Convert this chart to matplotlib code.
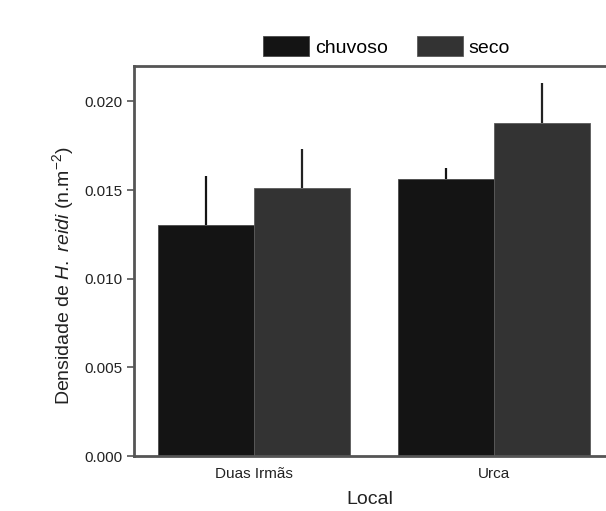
import matplotlib
matplotlib.use("Agg")
import matplotlib.pyplot as plt
import numpy as np

plt.rcParams['font.family'] = ['Liberation Sans', 'DejaVu Sans']
plt.rcParams['mathtext.fontset'] = 'custom'
plt.rcParams['mathtext.rm'] = 'Liberation Sans'
plt.rcParams['mathtext.it'] = 'Liberation Sans:italic'

locais = ['Duas Irmãs', 'Urca']
chuvoso = [0.01305, 0.01565]
chuvoso_err = [0.00273, 0.00058]
seco = [0.01512, 0.01876]
seco_err = [0.00221, 0.00230]

x = np.arange(len(locais))
w = 0.4

fig = plt.figure(figsize=(6.06, 5.11), dpi=100)
ax = fig.add_axes([0.2211, 0.1076, 0.779, 0.7632])

ax.bar(x - w / 2, chuvoso, w, color='#141414', label='chuvoso', edgecolor='#4a4a4a', linewidth=0.6,
       yerr=[np.zeros(2), chuvoso_err], error_kw=dict(ecolor='#141414', elinewidth=1.6, capsize=0))
ax.bar(x + w / 2, seco, w, color='#333333', label='seco', edgecolor='#5a5a5a', linewidth=0.6,
       yerr=[np.zeros(2), seco_err], error_kw=dict(ecolor='#222222', elinewidth=1.6, capsize=0))

ax.set_xlim(-0.5, 1.467)
ax.set_ylim(0, 0.022)
ax.set_yticks([0, 0.005, 0.010, 0.015, 0.020])
ax.set_yticklabels(['0.000', '0.005', '0.010', '0.015', '0.020'])
ax.set_xticks(x)
ax.set_xticklabels(locais)
ax.tick_params(axis='x', length=0, labelsize=11, pad=8, colors='#222222')
ax.tick_params(axis='y', length=5, width=1.2, labelsize=11, color='#555555', labelcolor='#222222')

for s in ['left', 'bottom', 'top']:
    ax.spines[s].set_color('#555555')
    ax.spines[s].set_linewidth(2)
ax.spines['right'].set_visible(False)

ax.set_xlabel('Local', fontsize=14, color='#222222', labelpad=7)
ax.set_ylabel(r'Densidade de $\it{H.\ reidi}$ (n.m$^{-2}$)', fontsize=14, color='#222222', labelpad=6)
ax.yaxis.label.set_y(0.462)

ax.legend(loc='center', bbox_to_anchor=(0.535, 1.05), ncol=2, frameon=False,
          fontsize=14, handlelength=2.37, handleheight=1.2, columnspacing=1.5, handletextpad=0.3,
          borderaxespad=0.0)

fig.savefig('out.png', dpi=100)
